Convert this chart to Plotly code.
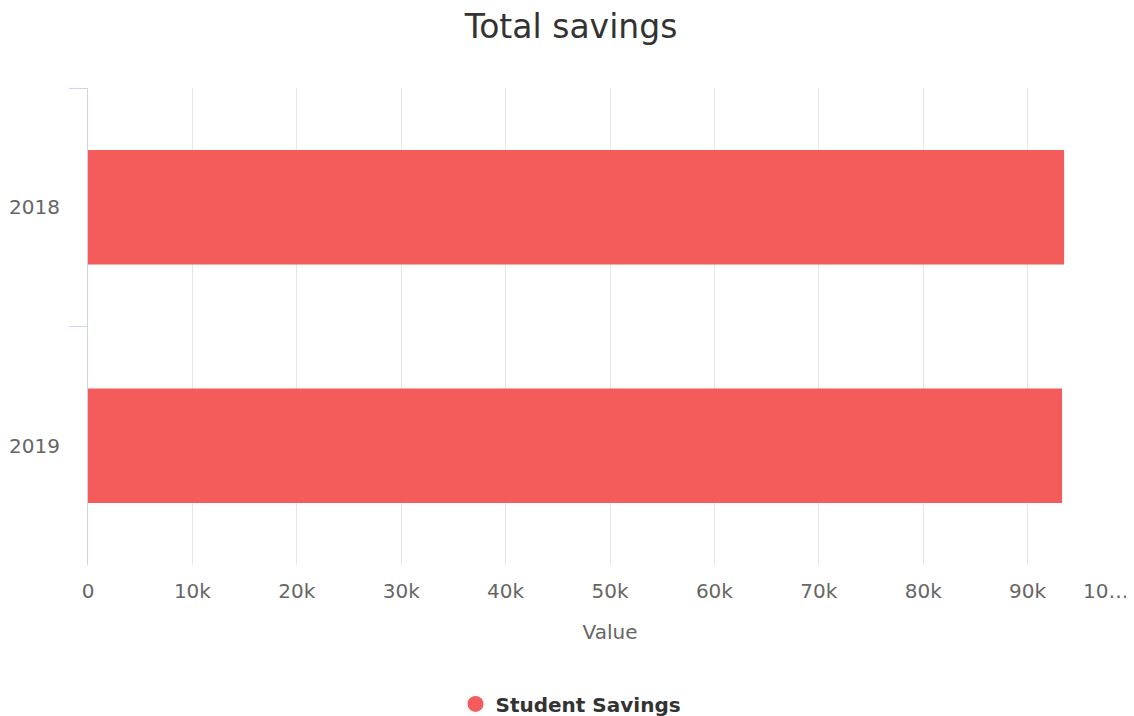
import plotly.graph_objects as go

categories = ["2018", "2019"]
savings = [93500, 93300]
series_name = "Student Savings"
x_tick_vals = [0, 10000, 20000, 30000, 40000, 50000, 60000, 70000, 80000, 90000, 100000]
x_tick_text = ["0", "10k", "20k", "30k", "40k", "50k", "60k", "70k", "80k", "90k", ""]
last_tick_label = "10…"

BAR_COLOR = "#f45b5b"
FONT = "DejaVu Sans"

fig = go.Figure()
fig.add_trace(go.Bar(
    y=categories, x=savings, orientation="h",
    marker=dict(color=BAR_COLOR, line=dict(width=0)),
    width=0.48, showlegend=False, name=series_name,
))
# legend entry with circle symbol
fig.add_trace(go.Scatter(
    x=[None], y=[None], mode="markers", name=series_name,
    marker=dict(color=BAR_COLOR, size=23, symbol="circle"),
))

fig.update_layout(
    width=1126, height=708,
    paper_bgcolor="white", plot_bgcolor="white",
    margin=dict(l=80, r=2, t=80, b=151),
    font=dict(family=FONT, color="#666666", size=20),
    title=dict(text="Total savings", x=0.5, xanchor="center", xref="container",
               y=0.99, yanchor="top", yref="container",
               font=dict(family=FONT, size=33, color="#333333")),
    showlegend=True,
    legend=dict(orientation="h", x=0.5, xanchor="center", xref="container",
                y=0.017, yanchor="middle", yref="container",
                font=dict(family=FONT, size=20, color="#333333", weight="bold"),
                itemsizing="trace"),
)
fig.update_xaxes(
    range=[0, 100000], tickvals=x_tick_vals, ticktext=x_tick_text,
    showgrid=True, gridcolor="#e6e6e6", gridwidth=1,
    zeroline=False, showline=False, ticks="", ticklabelstandoff=12,
    tickfont=dict(size=20, color="#666666"),
    title=dict(text="Value", font=dict(size=20, color="#666666"), standoff=22),
    automargin=False, fixedrange=True,
)
fig.update_yaxes(
    type="category", categoryorder="array", categoryarray=categories,
    autorange="reversed", tickson="boundaries",
    ticks="outside", ticklen=18, tickcolor="#ccd6eb", tickwidth=1,
    showline=True, linecolor="#ccd6eb", linewidth=1,
    showgrid=False, zeroline=False, ticklabelstandoff=23,
    tickfont=dict(size=20, color="#666666"),
    automargin=False, fixedrange=True,
)
fig.add_annotation(
    x=x_tick_vals[-1], y=0, xref="x", yref="paper", yanchor="top", xanchor="right",
    yshift=-12, xshift=-2, text=last_tick_label, showarrow=False,
    font=dict(family=FONT, size=20, color="#666666"),
)

fig.write_html("out.html")
